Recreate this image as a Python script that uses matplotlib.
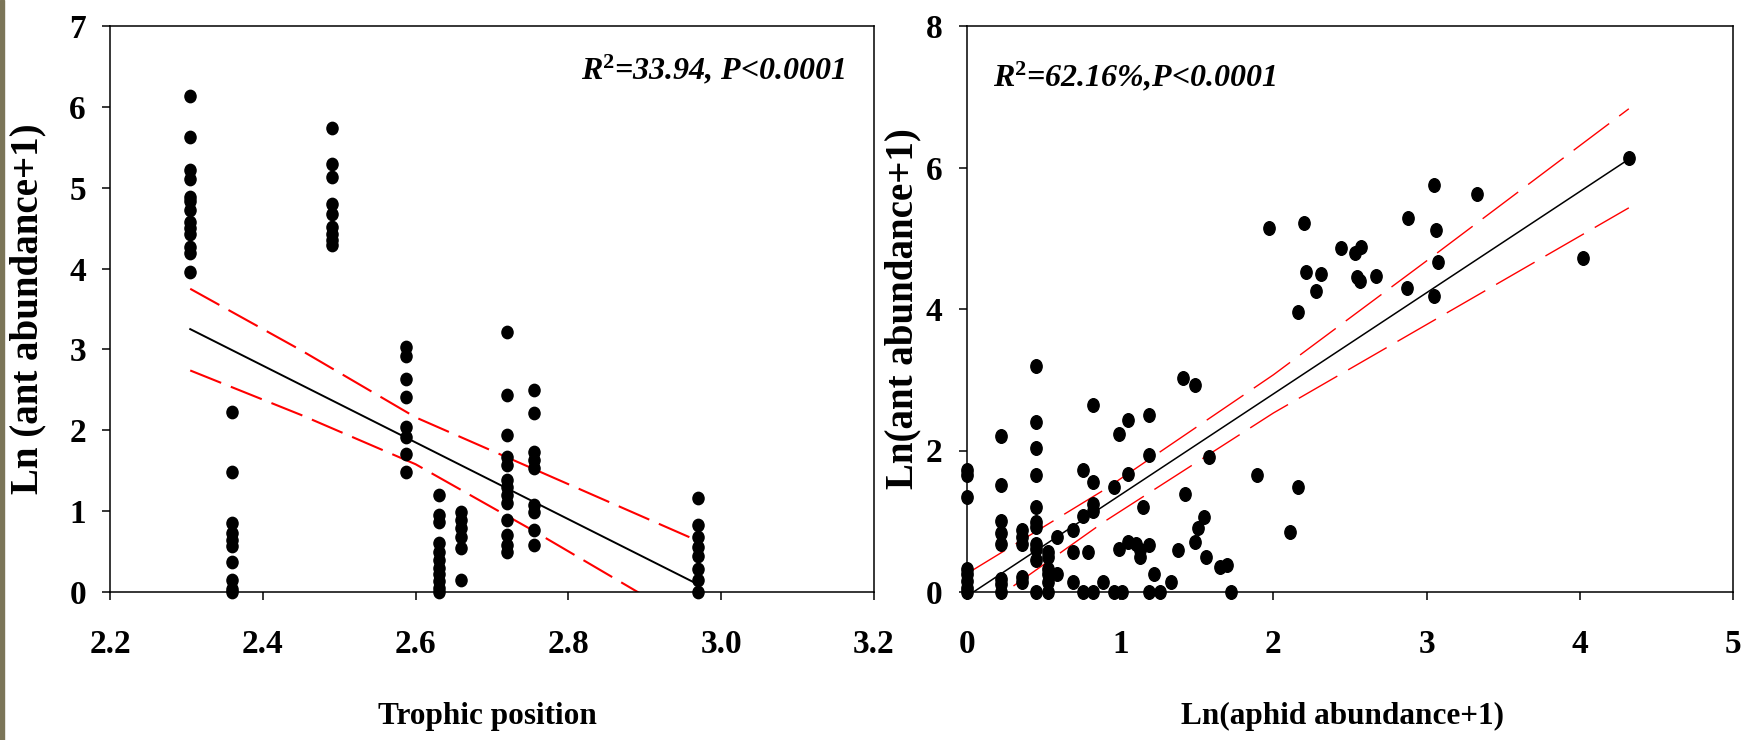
import numpy as np
import matplotlib
matplotlib.use("Agg")
import matplotlib.pyplot as plt
from matplotlib.path import Path
from matplotlib.patches import Rectangle

# DATA ---------------------------------------------------------------------------------------------
# left panel: ant abundance vs trophic position (one column of dots per trophic level)
trophic_pos = [2.305, 2.36, 2.49, 2.587, 2.63, 2.66, 2.72, 2.755, 2.97]
ant_tp_1 = [6.13, 5.63, 5.22, 5.11, 4.89, 4.84, 4.72, 4.58, 4.50, 4.43, 4.27, 4.19, 3.96]
ant_tp_2 = [2.23, 1.49, 0.85, 0.73, 0.64, 0.57, 0.37, 0.15, 0.04, 0.0]
ant_tp_3 = [5.74, 5.29, 5.13, 4.80, 4.68, 4.52, 4.43, 4.35, 4.29]
ant_tp_4 = [3.03, 2.92, 2.63, 2.41, 2.04, 1.92, 1.71, 1.48]
ant_tp_5 = [1.20, 0.95, 0.87, 0.60, 0.50, 0.40, 0.30, 0.22, 0.13, 0.05, 0.0]
ant_tp_6 = [0.99, 0.89, 0.79, 0.68, 0.54, 0.15]
ant_tp_7 = [3.21, 2.44, 1.94, 1.67, 1.57, 1.39, 1.30, 1.20, 1.10, 0.89, 0.70, 0.58, 0.50]
ant_tp_8 = [2.50, 2.21, 1.73, 1.63, 1.53, 1.08, 0.99, 0.77, 0.58]
ant_tp_9 = [1.16, 0.83, 0.68, 0.56, 0.44, 0.29, 0.15, 0.0]

tp_fit = [14.20, -4.75]            # intercept, slope
tp_fit_range = [2.305, 2.97]
tp_band_x = [2.305, 2.45, 2.60, 2.75, 2.97]
tp_band_upper = [3.75, 2.99, 2.16, 1.54, 0.63]
tp_band_lower = [2.74, 2.19, 1.58, 0.78, -0.44]
tp_label = "R$^{2}$=33.94, P<0.0001"

# right panel: ant abundance vs aphid abundance
aphid_x = [0, 0, 0, 0, 0, 0, 0, 0,
           0.22, 0.22, 0.22, 0.22, 0.22, 0.22, 0.22, 0.22,
           0.36, 0.36, 0.36, 0.36, 0.36,
           0.45, 0.45, 0.45, 0.45, 0.45, 0.45, 0.45, 0.45, 0.45, 0.45, 0.45,
           0.53, 0.53, 0.53, 0.53, 0.53, 0.53,
           0.59, 0.59, 0.69, 0.69, 0.69, 0.76, 0.76, 0.76, 0.79,
           0.82, 0.82, 0.82, 0.82, 0.82, 0.89, 0.96, 0.96, 0.99, 0.99, 1.01,
           1.05, 1.05, 1.05, 1.10, 1.13, 1.13, 1.15, 1.19, 1.19, 1.19, 1.19,
           1.22, 1.26, 1.33, 1.38, 1.41, 1.42, 1.49, 1.49, 1.51, 1.55, 1.56, 1.58,
           1.65, 1.70, 1.72, 1.89, 1.97, 2.11, 2.16, 2.16, 2.20, 2.215, 2.28, 2.31,
           2.44, 2.53, 2.545, 2.565, 2.57, 2.67, 2.87, 2.88, 3.05, 3.05, 3.06, 3.075,
           3.33, 4.02, 4.32]
ant_y = [1.72, 1.65, 1.34, 0.33, 0.25, 0.15, 0.05, 0.0,
         2.21, 1.51, 1.01, 0.83, 0.68, 0.19, 0.12, 0.0,
         0.87, 0.78, 0.68, 0.21, 0.14,
         3.20, 2.40, 2.04, 1.65, 1.20, 0.99, 0.92, 0.68, 0.61, 0.45, 0.0,
         0.57, 0.49, 0.33, 0.26, 0.14, 0.0,
         0.78, 0.26, 0.87, 0.57, 0.14, 1.73, 1.08, 0.0, 0.57,
         2.64, 1.55, 1.25, 1.15, 0.0, 0.14, 1.48, 0.0, 2.24, 0.61, 0.0,
         2.43, 1.67, 0.71, 0.68, 0.59, 0.49, 1.20, 2.50, 1.93, 0.66, 0.0,
         0.26, 0.0, 0.14, 0.60, 3.02, 1.38, 2.92, 0.71, 0.90, 1.06, 0.49, 1.91,
         0.35, 0.38, 0.0, 1.65, 5.14, 0.85, 3.96, 1.48, 5.21, 4.53, 4.25, 4.49,
         4.86, 4.79, 4.45, 4.39, 4.88, 4.46, 4.30, 5.29, 5.75, 4.18, 5.11, 4.66,
         5.63, 4.72, 6.14]

aph_fit = [-0.06, 1.43]            # intercept, slope
aph_fit_range = [0.0, 4.32]
aph_band_x = [0.0, 0.9, 2.0, 3.0, 4.32]
aph_band_upper = [0.26, 1.45, 3.07, 4.68, 6.83]
aph_band_lower = [-0.38, 1.00, 2.53, 3.78, 5.43]
aph_label = "R$^{2}$=62.16%,P<0.0001"

# STYLE --------------------------------------------------------------------------------------------
plt.rcParams['font.family'] = 'Liberation Serif'
plt.rcParams['font.weight'] = 'bold'
plt.rcParams['mathtext.fontset'] = 'custom'
plt.rcParams['mathtext.rm'] = 'Liberation Serif:bold'
plt.rcParams['mathtext.it'] = 'Liberation Serif:italic:bold'
plt.rcParams['mathtext.bf'] = 'Liberation Serif:bold'


def ellipse_marker(ratio):
    c = Path.unit_circle()
    return Path(c.vertices * np.array([ratio, 1.0]), c.codes)


def style_axes(ax, ypad):
    for s in ax.spines.values():
        s.set_linewidth(1.1)
    ax.tick_params(axis='both', direction='out', length=5.8, width=1.1, labelsize=24)
    ax.tick_params(axis='x', pad=21)
    ax.tick_params(axis='y', pad=ypad)
    for lab in ax.get_xticklabels() + ax.get_yticklabels():
        lab.set_fontweight('bold')


fig = plt.figure(figsize=(17.41, 7.40), dpi=100)
fig.patches.append(Rectangle((0, 0), 4 / 1741, 1, transform=fig.transFigure,
                             color='#7b7558', zorder=0))

ax1 = fig.add_axes([110 / 1741, 148 / 740, 764 / 1741, 566 / 740])
ax2 = fig.add_axes([967 / 1741, 148 / 740, 766 / 1741, 566 / 740])

# LEFT PANEL ---------------------------------------------------------------------------------------
ant_by_tp = [ant_tp_1, ant_tp_2, ant_tp_3, ant_tp_4, ant_tp_5,
             ant_tp_6, ant_tp_7, ant_tp_8, ant_tp_9]
mk1 = ellipse_marker(0.9)
for xv, ys in zip(trophic_pos, ant_by_tp):
    ax1.plot([xv] * len(ys), ys, linestyle='none', marker=mk1, markersize=8.9,
             color='black', clip_on=False, zorder=3)

xf = np.array(tp_fit_range)
ax1.plot(xf, tp_fit[0] + tp_fit[1] * xf, color='black', lw=1.4, zorder=2)
ax1.plot(tp_band_x, tp_band_upper, color='red', lw=1.5, linestyle=(0, (16, 5)), zorder=2)
ax1.plot(tp_band_x, tp_band_lower, color='red', lw=1.5, linestyle=(0, (16, 5)), zorder=2)

ax1.set_xlim(2.2, 3.2)
ax1.set_ylim(0, 7)
ax1.set_xticks([2.2, 2.4, 2.6, 2.8, 3.0, 3.2])
ax1.set_xticklabels(["2.2", "2.4", "2.6", "2.8", "3.0", "3.2"])
ax1.set_yticks(range(0, 8))
style_axes(ax1, 11.5)

ax1.set_xlabel("Trophic position", fontsize=22.5, fontweight='bold', va='baseline')
ax1.xaxis.set_label_coords(0.494, -0.233)
ax1.set_ylabel("Ln (ant abundance+1)", fontsize=28, fontweight='bold', va='center')
ax1.yaxis.set_label_coords(-0.107, 0.5)
ax1.text(0.962, 0.905, tp_label, transform=ax1.transAxes, ha='right', va='baseline',
         fontsize=23, fontweight='bold', fontstyle='italic')

# RIGHT PANEL --------------------------------------------------------------------------------------
mk2 = ellipse_marker(0.83)
ax2.plot(aphid_x, ant_y, linestyle='none', marker=mk2, markersize=9.8,
         color='black', clip_on=False, zorder=3)

xf2 = np.array(aph_fit_range)
ax2.plot(xf2, aph_fit[0] + aph_fit[1] * xf2, color='black', lw=1.1, zorder=2)
ax2.plot(aph_band_x, aph_band_upper, color='red', lw=1.0, linestyle=(0, (32, 9)), zorder=2)
ax2.plot(aph_band_x, aph_band_lower, color='red', lw=1.0, linestyle=(0, (32, 9)), zorder=2)

ax2.set_xlim(0, 5)
ax2.set_ylim(0, 8)
ax2.set_xticks(range(0, 6))
ax2.set_yticks([0, 2, 4, 6, 8])
style_axes(ax2, 12)

ax2.set_xlabel("Ln(aphid abundance+1)", fontsize=22.5, fontweight='bold', va='baseline')
ax2.xaxis.set_label_coords(0.49, -0.233)
ax2.set_ylabel("Ln(ant abundance+1)", fontsize=28, fontweight='bold', va='center')
ax2.yaxis.set_label_coords(-0.0836, 0.5)
ax2.text(0.034, 0.893, aph_label, transform=ax2.transAxes, ha='left', va='baseline',
         fontsize=23, fontweight='bold', fontstyle='italic')

fig.savefig("out.png", dpi=100)
